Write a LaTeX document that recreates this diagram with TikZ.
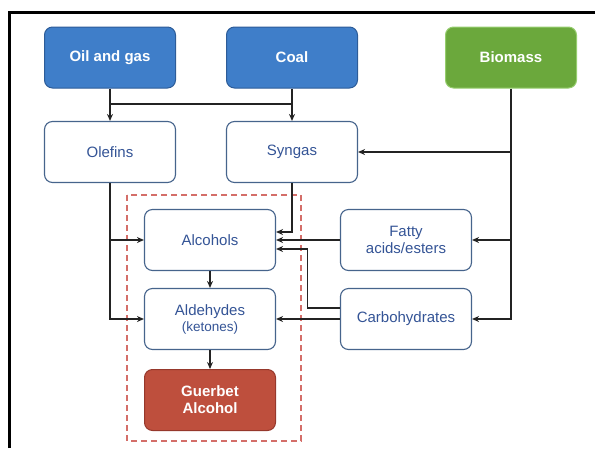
\documentclass[tikz,border=0pt]{standalone}
\usepackage{fontspec}
\setmainfont{Liberation Sans}
\usetikzlibrary{arrows.meta,calc}

\definecolor{srcblue}{RGB}{63,126,201}
\definecolor{srcblueline}{RGB}{45,92,152}
\definecolor{srcgreen}{RGB}{107,168,60}
\definecolor{srcgreenline}{RGB}{150,205,110}
\definecolor{prodred}{RGB}{190,79,61}
\definecolor{prodredline}{RGB}{150,56,44}
\definecolor{boxline}{RGB}{70,100,140}
\definecolor{boxtext}{RGB}{52,84,150}
\definecolor{zoneline}{RGB}{212,110,105}
\definecolor{linkgray}{RGB}{35,35,35}

\begin{document}
\begin{tikzpicture}[x=1pt,y=1pt,yscale=-1,xscale=1,
  basebox/.style={rounded corners=8pt, minimum width=131pt, minimum height=61pt, align=center, inner sep=0pt, font=\fontsize{15}{17}\selectfont},
  srcbox/.style={basebox, fill=srcblue, draw=srcblueline, line width=1pt, text=white, font=\fontsize{15}{17}\selectfont\bfseries},
  bioboxx/.style={srcbox, fill=srcgreen, draw=srcgreenline},
  prodbox/.style={srcbox, fill=prodred, draw=prodredline},
  midbox/.style={basebox, fill=white, draw=boxline, line width=1.1pt, text=boxtext},
  arr/.style={draw=linkgray, line width=1.4pt, -{Stealth[length=7pt,width=6pt]}},
  lnk/.style={draw=linkgray, line width=1.4pt}]
\useasboundingbox (0,0) rectangle (595,448);

%Frame: left and top edge
\draw [line width=3pt, black] (9,448) -- (9,12) -- (595,12);

%Dashed zone round the Guerbet route
\draw [zoneline, line width=1.5pt, dash pattern=on 6pt off 4pt] (127,195) rectangle (301,441);

% Source nodes
\node [srcbox] (oil) at (110,57.5) {Oil and gas};
\node [srcbox] (coal) at (292,57.5) {Coal};
\node [bioboxx] (bio) at (511,57.5) {Biomass};

% Intermediate nodes
\node [midbox] (olefins) at (110,152) {Olefins};
\node [midbox] (syngas) at (292,152) {Syngas};
\node [midbox] (alcohols) at (210,240) {Alcohols};
\node [midbox] (fatty) at (406,240) {Fatty\\acids/esters};
\node [midbox] (aldeh) at (210,319) {Aldehydes\\[-1pt]{\fontsize{13.5}{15}\selectfont (ketones)}};
\node [midbox] (carbo) at (406,319) {Carbohydrates};

% Product node
\node [prodbox] (guerbet) at (210,400) {Guerbet\\Alcohol};

%Links from the sources
\coordinate (split) at (110,104);
\draw [arr] (oil) -- (olefins);
\draw [arr] (coal) -- (syngas);
\draw [lnk] (split) -- (split -| coal);
\draw [arr] (bio.south) |- (carbo.east);
\draw [arr] (bio.south |- fatty) -- (fatty.east);
\draw [arr] (bio.south |- syngas) -- (syngas.east);

%Links into the dashed zone
\draw [arr] (olefins.south) |- (aldeh.west);
\draw [arr] (olefins.south |- alcohols) -- (alcohols.west);
\draw [arr] (syngas.south) |- ($(alcohols.east)+(0,-8)$);
\draw [arr] (fatty) -- (alcohols);
\draw [arr] ($(carbo.west)+(0,-11)$) -- ++(-32.5,0) |- ($(alcohols.east)+(0,9)$);
\draw [arr] (carbo) -- (aldeh);

%Links inside the dashed zone
\draw [arr] (alcohols) -- (aldeh);
\draw [arr] (aldeh) -- (guerbet);

\end{tikzpicture}
\end{document}
